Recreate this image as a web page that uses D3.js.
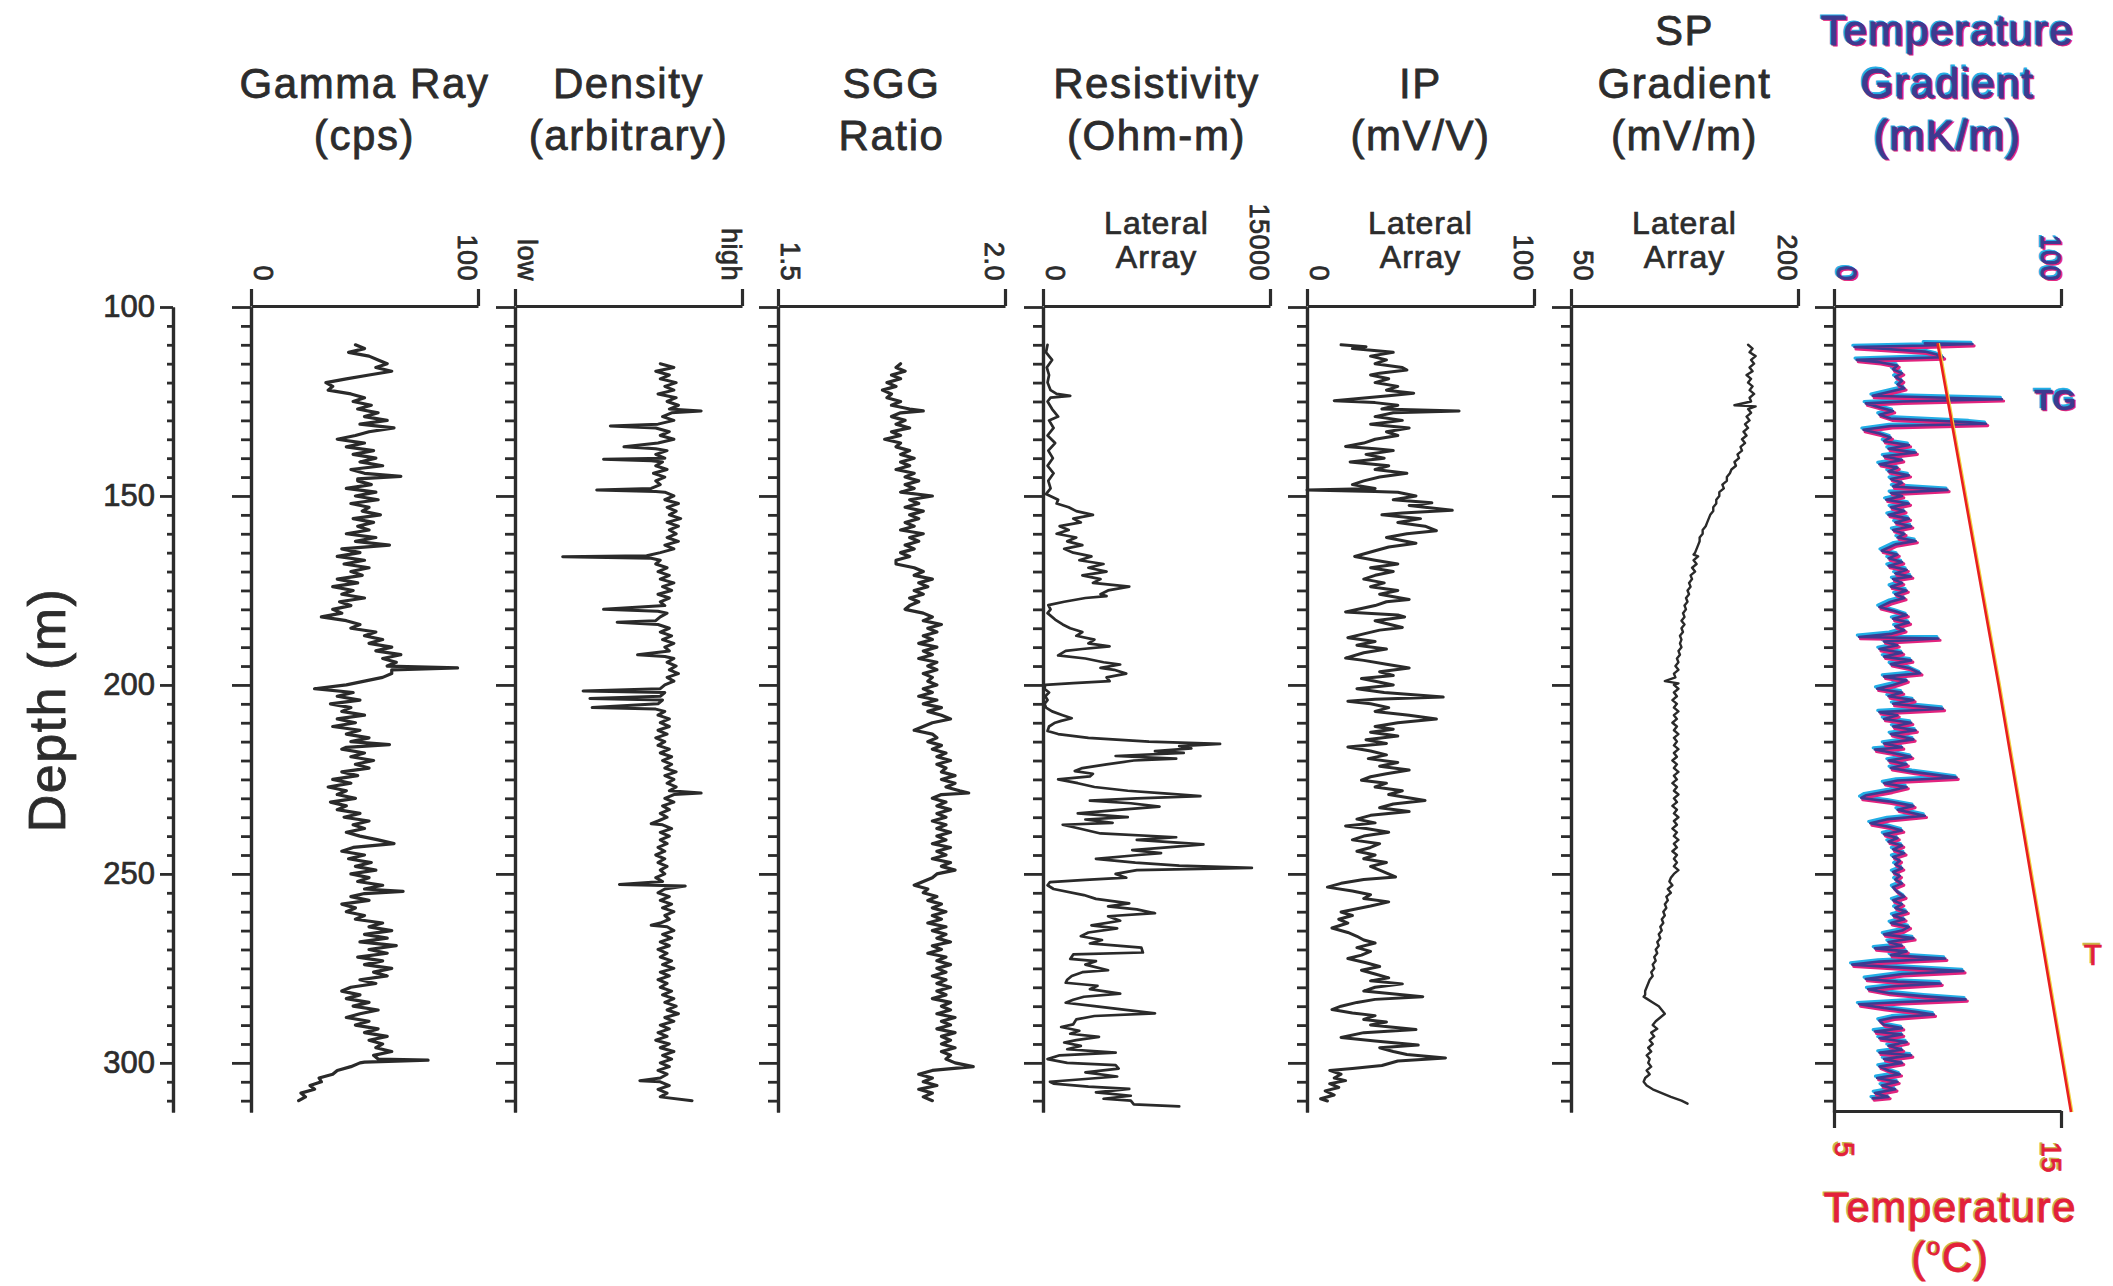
<!DOCTYPE html>
<html><head><meta charset="utf-8">
<script src="https://cdn.jsdelivr.net/npm/d3@7"></script>
<style>body{margin:0;background:#fff;} svg{display:block;}</style>
</head><body><svg id="chart" width="2113" height="1286"></svg>
<script>
// ---------------- DATA ----------------
const depthTickValues = [100,150,200,250,300];
const panelTitles = [["Gamma Ray","(cps)"],["Density","(arbitrary)"],["SGG","Ratio"],["Resistivity","(Ohm-m)"],["IP","(mV/V)"],["SP","Gradient","(mV/m)"],["Temperature","Gradient","(mK/m)"]];
const panelSubtitles = [null,null,null,["Lateral","Array"],["Lateral","Array"],["Lateral","Array"],null];
const grTicks = ["0","100"], densityTicks = ["low","high"], sggTicks = ["1.5","2.0"], resTicks = ["0","15000"], ipTicks = ["0","100"], spTicks = ["50","200"], tgTicks = ["0","100"], tempTicks = ["5","15"];
const grDomain=[0,100], densityDomain=[0,100], sggDomain=[1.5,2.0], resDomain=[0,15000], ipDomain=[0,100], spDomain=[50,200], tgDomain=[0,100], tempDomain=[5,15];

// [depth m, value]
const gammaRay = [[110,46],[111,50],[112,43],[113,52],[114,56],[115,60],[116,55],[117,62],[118,52],[119,42],
[120,33],[121,36],[122,34],[123,44],[124,50],[125,45],[126,53],[127,47],[128,56],[129,50],
[130,60],[131,48],[132,63],[133,52],[134,46],[135,38],[136,50],[137,42],[138,54],[139,45],
[140,55],[141,48],[142,58],[143,44],[144,50],[144.8,66],[145.5,47],[146,47],[147,53],[148,42],[149,55],
[150,46],[151,56],[152,44],[153,52],[154,49],[155,57],[156,45],[157,54],[158,47],[159,52],
[160,42],[161,55],[162,46],[163,61],[164,40],[165,48],[166,38],[167,50],[168,41],[169,52],
[170,44],[171,49],[172,38],[173,47],[174,36],[175,45],[176,40],[177,50],[178,39],[179,44],
[180,36],[181,40],[182,31],[183,42],[184,48],[185,44],[186,55],[187,50],[188,58],[189,52],
[190,62],[191,55],[192,66],[193,58],[194,64],[195,60],[195.5,91],[196,62],[197,62],[198,58],[199,50],
[200,42],[201,28],[202,45],[203,38],[204,48],[205,35],[206,44],[207,40],[208,50],[209,38],
[210,46],[211,36],[212,48],[213,42],[214,52],[215,44],[215.8,61],[216.5,42],[217,40],[218,50],[219,44],
[220,54],[221,46],[222,52],[223,40],[224,47],[225,36],[226,44],[227,34],[228,42],[229,38],
[230,46],[231,35],[232,42],[233,38],[234,48],[235,41],[236,52],[237,45],[238,50],[239,42],
[240,48],[241,56],[242,63],[243,45],[244,40],[245,50],[246,43],[247,53],[248,46],[249,55],
[250,44],[251,52],[252,47],[253,58],[254,50],[254.6,67],[255.2,50],[256,44],[257,52],[258,40],[259,46],
[260,42],[261,50],[262,46],[263,58],[264,52],[265,62],[266,50],[267,60],[268,48],[269,64],
[270,52],[271,60],[272,47],[273,58],[274,50],[275,62],[276,54],[277,60],[278,48],[279,55],
[280,44],[281,40],[282,48],[283,42],[284,52],[285,45],[286,56],[287,48],[288,42],[289,52],
[290,46],[291,56],[292,50],[293,60],[294,52],[295,58],[296,55],[297,62],[298,54],[299,56],[299.3,78],[299.8,50],
[300,48],[301,44],[302,38],[303,36],[304,30],[305,31],[306,26],[307,28],[308,22],[309,24],[310,21]];

const density = [[115,64],[116,70],[117,62],[118,68],[119,64],[120,71],[121,66],[122,70],[123,63],[124,71],
[125,67],[126,72],[127,68],[127.5,82],[128,69],[129,65],[130,70],[131,63],[131.5,42],[132,62],[133,68],[134,64],[135,70],[136,63],[137,48],[137.5,62],[138,67],[139,62],[140,66],[140.3,39],[140.7,60],[141,65],[142,62],[143,67],[144,61],[145,66],[146,62],[147,64],[148,60],[148.4,36],[148.8,62],[149,66],
[150,70],[151,66],[152,72],[153,67],[154,71],[155,68],[156,73],[157,67],[158,72],[159,68],[160,71],[161,67],[162,72],[163,66],[164,70],[165,64],[165.8,58],[166.1,21],[166.5,60],[167,64],[168,62],[169,67],[170,63],[171,68],[172,64],[173,70],[174,65],[175,69],[176,63],[177,68],[178,64],[179,66],[180,39],[180.5,63],[181,67],[182,64],[183,62],[183.4,45],[184,63],[185,68],[186,64],[187,69],[188,65],[189,70],[190,66],[191,68],[192,54],[192.5,66],[193,70],[194,67],[195,71],[196,68],[197,72],[198,67],[199,70],[200,66],[201,64],[201.6,30],[202,66],[203,64],[203.6,33],[204,65],[205,63],[206,34],[206.4,62],[207,66],[208,63],[209,68],
[210,64],[211,68],[212,63],[213,67],[214,62],[215,66],[216,63],[217,68],[218,64],[219,69],[220,65],[221,69],[222,66],[223,71],[224,66],[225,70],[226,67],[227,71],[228,68],[228.6,82],[229,70],[230,66],[231,70],[232,65],[233,68],[234,64],[235,67],[236,63],[236.7,60],[237,65],[238,69],[239,64],[240,68],[241,64],[242,67],[243,63],[244,66],[245,62],[246,66],[247,63],[248,67],[249,64],[250,66],[251,62],[252,65],[252.8,46],[253.2,75],[254,66],[255,63],[256,68],[257,64],[258,69],[259,65],[260,70],[261,66],[262,68],[263,64],[263.6,60],[264,67],[265,70],[266,65],[267,69],[268,64],[269,68],[270,63],[271,67],[272,64],[273,69],[274,65],[275,70],[276,64],[277,68],[278,63],[279,67],[280,64],[281,69],[282,65],[283,70],[284,66],[285,71],[286,67],[287,72],[288,66],[289,70],[290,64],[291,68],[292,63],[293,67],[294,62],[295,68],[296,64],[297,70],[298,65],[299,69],[300,64],[301,68],[302,63],[303,67],[304,64],[304.7,55],[305,64],[306,68],[307,63],[308,67],[309,64],[310,78]];

const sggRatio = [[115,1.77],[116,1.76],[117,1.78],[118,1.75],[119,1.77],[120,1.74],[121,1.76],[122,1.73],[123,1.75],[124,1.74],[125,1.77],[126,1.75],[127,1.79],[127.5,1.82],[128,1.77],[129,1.75],[130,1.78],[131,1.76],[132,1.79],[133,1.75],[134,1.77],[135,1.735],[136,1.77],[137,1.76],[138,1.79],[139,1.77],[140,1.80],[141,1.77],[142,1.79],[143,1.76],[144,1.80],[145,1.78],[146,1.81],[147,1.78],[148,1.80],[149,1.77],[150,1.84],[151,1.79],[152,1.81],[153,1.78],[154,1.82],[155,1.79],[156,1.81],[157,1.78],[158,1.80],[159,1.77],[160,1.82],[161,1.79],[162,1.81],[163,1.78],[164,1.80],[165,1.77],[166,1.79],[167,1.76],[168,1.76],[169,1.80],[170,1.82],[171,1.80],[172,1.84],[173,1.81],[174,1.83],[175,1.80],[176,1.82],[177,1.79],[178,1.81],[179,1.79],[180,1.78],[181,1.82],[182,1.84],[183,1.82],[184,1.86],[185,1.83],[186,1.85],[187,1.82],[188,1.84],[189,1.81],[190,1.85],[191,1.82],[192,1.84],[193,1.81],[194,1.85],[195,1.83],[196,1.85],[197,1.82],[198,1.84],[199,1.83],[200,1.85],[201,1.82],[202,1.84],[203,1.81],[204,1.85],[205,1.82],[206,1.86],[207,1.83],[208,1.86],[209,1.88],[210,1.84],[211,1.82],[212,1.80],[213,1.84],[214,1.85],[215,1.83],[216,1.86],[217,1.84],[218,1.87],[219,1.85],[220,1.88],[221,1.85],[222,1.87],[223,1.86],[224,1.89],[225,1.86],[226,1.89],[227,1.87],[228,1.90],[228.6,1.92],[229,1.86],[230,1.84],[231,1.87],[232,1.85],[233,1.88],[234,1.85],[235,1.87],[236,1.84],[237,1.87],[238,1.85],[239,1.88],[240,1.85],[241,1.87],[242,1.84],[243,1.88],[244,1.85],[245,1.87],[246,1.84],[247,1.88],[248,1.86],[249,1.89],[250,1.85],[251,1.84],[252,1.82],[253,1.80],[254,1.83],[255,1.82],[256,1.85],[257,1.83],[258,1.86],[259,1.84],[260,1.87],[261,1.84],[262,1.86],[263,1.83],[264,1.87],[265,1.84],[266,1.87],[267,1.85],[268,1.88],[269,1.84],[270,1.86],[271,1.83],[272,1.87],[273,1.85],[274,1.88],[275,1.85],[276,1.87],[277,1.84],[278,1.87],[279,1.85],[280,1.88],[281,1.85],[282,1.87],[283,1.84],[284,1.88],[285,1.86],[286,1.88],[287,1.85],[288,1.89],[289,1.86],[290,1.88],[291,1.85],[292,1.89],[293,1.86],[294,1.88],[295,1.86],[296,1.89],[297,1.86],[298,1.88],[299,1.87],[300,1.89],[301,1.93],[302,1.84],[303,1.81],[304,1.84],[305,1.82],[306,1.85],[307,1.81],[308,1.84],[309,1.82],[310,1.84]];

const resistivity = [[110,300],[112,200],[114,600],[116,250],[118,400],[120,300],[122,500],[123,900],[123.5,1800],[124,500],[125,300],[127,600],[129,1000],[130,400],[132,700],[134,300],[136,800],[138,350],[140,650],[142,300],[144,700],[146,350],[148,500],[149.5,200],[151,1000],[152,900],[153,1700],[154,2200],[155,3300],[156,2000],[157,2500],[158,1100],[159,1700],[160,900],[161,2200],[162,1600],[163,2600],[164,1400],[165,2000],[166,3200],[167,2400],[168,4000],[169,3000],[170,4200],[171,2600],[172,3800],[173,3300],[174,5700],[175,4300],[176,3800],[176.5,4200],[177,2800],[178,1400],[178.9,350],[180,500],[181,300],[182.7,800],[184,1300],[185,1800],[186,2600],[187,2200],[188,3400],[189,3000],[189.8,4400],[190.5,2600],[191,1500],[192.2,1000],[193,2800],[194,4000],[194.6,5100],[195.5,3800],[196,4700],[197,5500],[198,4200],[199,4400],[199.5,2000],[200,150],[201,100],[202,400],[203,150],[204,300],[205,100],[206,200],[207,600],[208,1300],[208.8,1900],[209.5,1200],[210,800],[211,400],[212.2,300],[213,1000],[214,3000],[215,7000],[215.6,11700],[216.2,9000],[216.8,9800],[217.5,7400],[218,9300],[218.8,4800],[219.5,8800],[220,6000],[221,4200],[222,2600],[222.8,2100],[223.5,3300],[224.2,3100],[225,1000],[226,2300],[227,3400],[228,5600],[228.7,8000],[229.4,10400],[230,6200],[230.6,3100],[231.3,5800],[232.2,7700],[233,5200],[234,2300],[235,5600],[235.6,2800],[236.5,4600],[237,1300],[238,2400],[239.3,3800],[240.3,8800],[241,6200],[242.2,10600],[243,8200],[243.7,5900],[244.5,7800],[245,6300],[246,3500],[247,6100],[247.8,9000],[248.4,13800],[249,6200],[250,4800],[251,5500],[251.6,2800],[252.2,460],[253,300],[254,700],[255.6,2700],[256.6,3500],[257.8,5700],[258.6,4300],[259.4,6200],[260.4,7400],[261.2,4300],[262.4,5100],[263.6,3200],[264.4,4900],[265.5,3000],[266.5,2500],[267.5,3900],[268.4,3100],[269.5,6500],[270.8,6600],[271.3,2000],[272.5,1800],[273.1,3500],[274,2800],[275.5,4300],[276,2600],[277,1900],[278,1600],[278.8,1500],[279.6,3600],[280.5,3100],[281.7,5100],[282.5,2700],[283.3,2000],[284.1,1500],[285,3400],[286.9,7400],[287.6,3400],[288.5,2200],[289.8,2000],[290.5,1200],[291.5,2400],[292.3,1800],[293.1,3700],[294,2200],[294.6,1400],[295.5,2500],[296.4,1600],[297.3,4800],[298,1100],[299,300],[300,1600],[300.6,4800],[301.5,5000],[302.5,2800],[303.6,4900],[304.2,3000],[305,460],[305.5,700],[306.3,3000],[306.9,5700],[307.8,3500],[308.7,5800],[309.5,4000],[310,5800],[311,6000],[311.5,9000]];

const ipLog = [[110,15],[110.5,26],[111,20],[112,38],[113,28],[114,35],[115,30],[116,42],[116.7,44],[117.5,32],[118,28],[119,36],[120,30],[121,40],[122,35],[122.8,47],[123.5,36],[124.8,12],[125.3,30],[126,40],[127,33],[127.5,67],[128,38],[129,30],[130,42],[131,28],[132,45],[133,35],[134,40],[135,30],[136,25],[136.9,17],[137.5,30],[138,38],[139,26],[140,34],[141,19],[142,36],[143,30],[144,44],[145,32],[146,25],[147,20],[148,30],[148.4,0],[148.8,30],[149,40],[150,48],[151,38],[151.8,55],[152.5,45],[153.8,64],[154.5,42],[155,33],[156,50],[157,40],[158,52],[159.2,57],[160,44],[161,35],[162.5,48],[163.5,36],[164.5,30],[166,21],[167,30],[168,40],[169,28],[170,38],[171,30],[172,25],[173,34],[174,28],[175,40],[176,32],[177.4,45],[178,35],[179,30],[180.7,17],[181.5,40],[182,43],[183,30],[184.8,42],[185.5,32],[186.5,25],[187.5,18],[188.5,30],[189.5,22],[190.5,35],[191.5,25],[192.9,17],[193.5,25],[194.5,35],[195.5,45],[196.5,32],[197.5,38],[198.3,24],[199,30],[200,38],[201,22],[202,34],[203.2,60],[203.8,30],[204.3,18],[205,28],[206,36],[207,30],[208,45],[209,57],[210,40],[211,30],[211.7,38],[212.5,28],[213.5,40],[214.5,26],[215.5,35],[216.4,18],[217.5,28],[218.5,35],[219.5,27],[220.5,40],[221.5,32],[222.5,45],[223.5,35],[224.3,28],[225.2,24],[226,35],[227,30],[228,42],[229,36],[230.6,52],[231.5,38],[232.5,32],[233.5,45],[234.5,28],[235.5,22],[236.5,30],[237.3,17],[238,26],[239,36],[240,25],[241,20],[242,32],[243,28],[244,22],[245,30],[246,25],[247,35],[248,28],[249,32],[250.8,39],[251.5,25],[252.5,15],[253.5,9],[254.5,20],[255.5,28],[256.5,25],[257.4,36],[258.5,28],[260.1,15],[261,20],[262,14],[263,18],[264.3,11],[265.5,18],[266.5,22],[267.5,25],[268.3,30],[269.5,22],[270.5,28],[271.5,24],[272.4,18],[273.5,26],[274.5,32],[275.5,24],[276.5,30],[277.5,36],[278.3,28],[279.1,42],[280,30],[281,25],[282.5,51],[283.2,30],[284,22],[285,15],[285.9,11],[286.8,20],[287.5,30],[288.5,25],[289.2,35],[290,28],[291.2,48],[292,25],[293.3,15],[294.2,30],[295.3,49],[296,32],[297,38],[297.8,44],[298.7,61],[299.5,40],[300.7,33],[301.5,20],[302,10],[303,15],[304,12],[304.7,17],[305.5,10],[306.5,14],[307.4,8],[308.5,12],[309.5,6],[310.1,9]];

const spGradient = [[110,167],[111,170],[112,168],[113,172],[114,169],[115,171],[116,168],[117,170],[118,166],[119,169],[120,167],[121,170],[122,168],[123,171],[124,168],[125,169],[126,158],[126.3,172],[127,167],[128,169],[129,166],[130,168],[131,165],[132,167],[133,164],[134,166],[135,163],[136,165],[137,162],[138,163],[139,160],[140,161],[141,158],[142,159],[143,156],[144,155],[145,153],[146,153],[147,150],[148,151],[149,148],[150,148],[151,146],[152,146],[153,144],[154,144],[155,142],[156,141],[157,140],[158,139],[159,137],[160,137],[161,135],[162,135],[163,134],[164,133],[165,132],[165.5,131],[166,134],[167,131],[168,133],[169,130],[170,132],[171,129],[172,130],[173,128],[174,129],[175,127],[176,128],[177,126],[178,127],[179,125],[180,126],[181,124],[182,125],[183,123],[184,125],[185,123],[186,124],[187,122],[188,123],[189,122],[190,123],[191,121],[192,122],[193,120],[194,121],[195,119],[196,121],[197,118],[198,119],[199,112],[199.6,121],[200,118],[201,121],[202,118],[203,120],[204,117],[205,120],[206,118],[207,121],[208,118],[209,120],[210,117],[211,120],[212,118],[213,121],[214,118],[215,120],[216,118],[217,121],[218,118],[219,120],[220,117],[221,120],[222,118],[223,121],[224,118],[225,120],[226,117],[227,120],[228,118],[229,121],[230,118],[231,120],[232,117],[233,120],[234,118],[235,121],[236,118],[237,120],[238,117],[239,120],[240,118],[241,121],[242,118],[243,120],[244,117],[245,120],[246,118],[247,120],[248,118],[249,121],[250,118],[251,116],[252,115],[253,117],[254,114],[255,116],[256,113],[257,114],[258,112],[259,113],[260,111],[261,112],[262,110],[263,111],[264,109],[265,110],[266,108],[267,109],[268,107],[269,108],[270,106],[271,107],[272,105],[273,106],[274,104],[275,105],[276,103],[277,104],[278,102],[279,101],[280,100],[281,99],[282,99],[282.5,98],[283,100],[284,104],[285,108],[286,110],[287,112],[288,109],[289,106],[290,104],[291,107],[292,103],[293,105],[294,102],[295,104],[296,101],[297,103],[298,100],[299,102],[300,101],[301,103],[302,100],[303,102],[304,99],[305,98],[306,100],[307,104],[308,110],[309,116],[310,123],[310.8,127]];

const tempGradient = [[109.6,40],[109.8,61],[110.2,40],[110.6,9],[111,20],[111.8,40],[112.5,45],[113.3,48],[113.8,20],[114,10],[114.6,20],[115.5,28],[116.5,26],[117.5,30],[118.5,27],[119.5,30],[120.5,28],[121.5,31],[122.5,24],[123.5,17],[124.4,74],[125,30],[125.5,14],[126.5,20],[127.5,26],[128.5,20],[129.5,25],[130.5,60],[130.9,67],[131.5,25],[132.5,13],[133.5,20],[134.5,25],[135.5,22],[136.5,33],[137.5,24],[138.5,36],[139.5,22],[140.5,30],[141.6,20],[142.5,28],[143.5,24],[144.5,33],[145.5,25],[146.5,30],[147.5,26],[148.4,50],[149.2,25],[150,30],[151,23],[152,33],[153,25],[154,31],[155,24],[156,33],[157,27],[158,34],[159,26],[160,31],[161,28],[161.9,36],[162.8,27],[164.5,21],[165.5,28],[166.5,24],[167.5,30],[168.5,24],[169.5,32],[170.5,27],[171.3,34],[172,26],[173,30],[174,25],[175,32],[176,27],[177,31],[178,25],[179.4,20],[180.5,27],[181.5,32],[182.5,26],[183.5,33],[184.5,27],[185.5,31],[186.5,25],[187.3,11],[187.7,46],[188.5,22],[189.5,28],[190.5,20],[191.5,30],[192.5,22],[193.5,34],[194.5,25],[195.5,33],[196.9,38],[197.8,22],[198.8,32],[200,26],[201,19],[202,30],[203,24],[204,35],[205,26],[206.3,48],[207.2,20],[208,28],[209,22],[210,34],[211,26],[212,36],[213,25],[214.4,35],[215.5,22],[216.5,30],[217.1,18],[218,26],[219,34],[220,24],[221,32],[222,25],[223,35],[224.5,54],[225.3,28],[226,22],[227,32],[228,25],[229.2,14],[229.9,12],[230.8,24],[232,35],[233,28],[234.6,40],[235.5,24],[236.6,16],[237.5,24],[238.5,30],[239.5,22],[240.5,28],[241.5,24],[242.5,30],[243.5,26],[244.5,31],[245.5,26],[246.5,29],[247.5,27],[248.5,30],[249.5,26],[250.5,29],[251.5,27],[252.5,30],[253.5,26],[254.8,28],[256,31],[257,26],[258,30],[259,27],[260,32],[261,26],[262,31],[263,25],[264,33],[265,30],[266,22],[267,35],[268,24],[269,30],[269.7,18],[270.5,32],[271.5,25],[272.4,49],[273.2,20],[274,8],[274.8,30],[275.7,57],[276.5,30],[277.8,14],[278.5,28],[279,47],[279.8,25],[280.5,15],[281.5,24],[282.4,40],[283.2,58],[283.9,30],[284.5,11],[285.5,22],[286.5,36],[287.2,44],[288,26],[288.8,20],[289.9,22],[290.8,30],[291.7,18],[292.5,30],[293.5,20],[294.5,32],[295.5,24],[296.5,30],[297.3,20],[298,34],[299,22],[300,30],[301,20],[302,24],[303,29],[304,19],[305,28],[306,21],[307,27],[308,18],[309,24],[309.4,17]];

const temperature = [[109.6,9.56],[200,12.25],[313,15.44]];

// ---------------- DRAWING ----------------
const svg = d3.select("#chart");
const FONT = "'Liberation Sans', Arial, Helvetica, sans-serif";
const INK = "#2c2c2c";
const PURPLE = "#3d3a90", CYAN = "#22aee6", MAGENTA = "#e2237e";
const RED = "#e3203a", OLIVE = "#c9b548";

svg.append("rect").attr("width",2113).attr("height",1286).attr("fill","#fff");

const y = d3.scaleLinear().domain([100,313]).range([307,1112]);
const panelLefts = [251,515,778,1043,1307,1571,1834];
const PW = 227;
const minorDepths = d3.range(105, 313, 5).filter(d => d % 50 !== 0);
const curveWidths = [3.2, 3.0, 3.2, 2.7, 3.0, 2.4];

function styleAxis(g, w) {
  g.selectAll("path.domain").attr("stroke", INK).attr("stroke-width", 3.2);
  g.selectAll("line").attr("stroke", INK).attr("stroke-width", w || 2.8);
  g.selectAll("text").attr("fill", INK).attr("font-family", FONT);
}

function txt(parent, o) {
  const t = parent.append("text")
    .attr("font-family", FONT)
    .attr("font-size", o.size)
    .attr("fill", o.color || INK)
    .attr("text-anchor", o.anchor || "middle")
    .attr("letter-spacing", o.ls || 0)
    .attr("font-weight", o.weight || "normal");
  if (o.baseline) t.attr("dominant-baseline", o.baseline);
  const dx = o.dx || 0, dy = o.dy || 0;
  t.attr("transform", `translate(${o.x + dx},${o.y + dy})` + (o.rotate ? ` rotate(${o.rotate})` : ""));
  if (o.stroke !== false) t.attr("stroke", o.color || INK).attr("stroke-width", o.sw || 0.6);
  if (o.build) o.build(t); else t.text(o.text);
  return t;
}
function fringeText(parent, o, layers) {
  layers.forEach(([c, dx, dy]) => txt(parent, Object.assign({}, o, {color: c, dx, dy})));
}
const purpleLayers = [[CYAN,-1.6,-1.2],[MAGENTA,1.6,1.2],[PURPLE,0,0]];
const redLayers = [[OLIVE,-1.6,-1.2],[RED,0,0]];

// Depth axis
const dAxis = svg.append("g").attr("transform","translate(173,0)");
dAxis.call(d3.axisLeft(y).tickValues(depthTickValues).tickSize(13).tickSizeOuter(0).tickPadding(5));
dAxis.append("g").call(d3.axisLeft(y).tickValues(minorDepths).tickSize(6).tickSizeOuter(0).tickFormat(""));
styleAxis(dAxis);
dAxis.selectAll("text").attr("font-size", 31).attr("stroke", INK).attr("stroke-width", 0.7);
txt(svg, {x: 47, y: 710, text: "Depth (m)", size: 52, rotate: -90, baseline: "central", ls: 1.5, sw: 0.8});

const panels = [
  {domain: grDomain, ticks: grTicks, data: gammaRay},
  {domain: densityDomain, ticks: densityTicks, data: density},
  {domain: sggDomain, ticks: sggTicks, data: sggRatio},
  {domain: resDomain, ticks: resTicks, data: resistivity},
  {domain: ipDomain, ticks: ipTicks, data: ipLog},
  {domain: spDomain, ticks: spTicks, data: spGradient},
  {domain: tgDomain, ticks: tgTicks, data: tempGradient, colored: true}
];

panels.forEach((p, i) => {
  const left = panelLefts[i];
  const cx = left + PW / 2;
  const x = d3.scaleLinear().domain(p.domain).range([left, left + PW]);
  const g = svg.append("g");

  // Left depth axis of the track
  const la = g.append("g").attr("transform", `translate(${left},0)`);
  la.call(d3.axisLeft(y).tickValues(depthTickValues).tickSize(19).tickSizeOuter(0).tickFormat(""));
  la.append("g").call(d3.axisLeft(y).tickValues(minorDepths).tickSize(10).tickSizeOuter(0).tickFormat(""));
  styleAxis(la);
  // Top scale axis
  const ta = g.append("g").attr("transform", "translate(0,306)");
  ta.call(d3.axisTop(x).tickValues(p.domain).tickSize(17).tickSizeOuter(0).tickFormat(""));
  styleAxis(ta, 3.2);

  // Scale labels (rotated)
  p.ticks.forEach((lab, j) => {
    const o = {x: x(p.domain[j]) + (j === 0 ? 12 : -11), y: 281, text: lab, size: 27, rotate: 90,
               anchor: "end", baseline: "central", ls: 0.5, sw: 0.8};
    if (p.colored) fringeText(g, o, purpleLayers); else txt(g, o);
  });

  // Titles
  const lines = panelTitles[i];
  lines.forEach((ln, k) => {
    const by = 150 - (lines.length - 1 - k) * 52.5;
    const o = {x: cx, y: by, text: ln, size: 42, ls: 1.6, sw: 0.8};
    if (p.colored) fringeText(g, o, purpleLayers); else txt(g, o);
  });
  const sub = panelSubtitles[i];
  if (sub) {
    txt(g, {x: cx, y: 234, text: sub[0], size: 32, ls: 1, sw: 0.7});
    txt(g, {x: cx, y: 268, text: sub[1], size: 32, ls: 1, sw: 0.7});
  }

  const line = d3.line().x(d => x(d[1])).y(d => y(d[0]));
  if (p.colored) {
    [[CYAN,-1.6,-1.8,3.2],[MAGENTA,1.6,1.8,3.2],[PURPLE,0,0,2.6]].forEach(([c, dx, dy, w]) => {
      g.append("path").datum(p.data).attr("transform", `translate(${dx},${dy})`)
        .attr("d", line).attr("fill","none").attr("stroke", c).attr("stroke-width", w)
        .attr("stroke-linejoin","round").attr("stroke-linecap","round");
    });
  } else {
    g.append("path").datum(p.data).attr("d", line).attr("fill","none")
      .attr("stroke", "#2a2a2a").attr("stroke-width", curveWidths[i])
      .attr("stroke-linejoin","round").attr("stroke-linecap","round");
  }
});

// Temperature (bottom scale) on last track
{
  const left = panelLefts[6];
  const xt = d3.scaleLinear().domain(tempDomain).range([left, left + PW]);
  const g = svg.append("g");
  const ba = g.append("g").attr("transform", "translate(0,1111)");
  ba.call(d3.axisBottom(xt).tickValues(tempDomain).tickSize(17).tickSizeOuter(0).tickFormat(""));
  styleAxis(ba, 3.2);
  tempTicks.forEach((lab, j) => {
    fringeText(g, {x: xt(tempDomain[j]) + (j === 0 ? 10 : -10), y: 1142, text: lab, size: 27, rotate: 90,
                   anchor: "start", baseline: "central", ls: 0.5, sw: 0.8}, redLayers);
  });
  const tline = d3.line().x(d => xt(d[1])).y(d => y(d[0]));
  g.append("path").datum(temperature).attr("transform","translate(1.2,0)").attr("d", tline)
    .attr("fill","none").attr("stroke", "#f0d040").attr("stroke-width", 2.6);
  g.append("path").datum(temperature).attr("d", tline)
    .attr("fill","none").attr("stroke", "#e8201f").attr("stroke-width", 2.6);

  const cx = left + PW / 2 + 3;
  fringeText(g, {x: cx, y: 1222, text: "Temperature", size: 42, ls: 1.6, sw: 0.8}, redLayers);
  fringeText(g, {x: cx, y: 1272, size: 42, ls: 1.6, sw: 0.8, build: t => {
    t.append("tspan").text("(");
    t.append("tspan").attr("font-size", 24).attr("dy", -17).text("o");
    t.append("tspan").attr("dy", 17).text("C)");
  }}, redLayers);

  fringeText(g, {x: 2055, y: 399, text: "TG", size: 30, baseline: "central", weight: "bold", sw: 0.3}, purpleLayers);
  fringeText(g, {x: 2093, y: 954, text: "T", size: 30, baseline: "central", sw: 0.6}, redLayers);
}
</script></body></html>
